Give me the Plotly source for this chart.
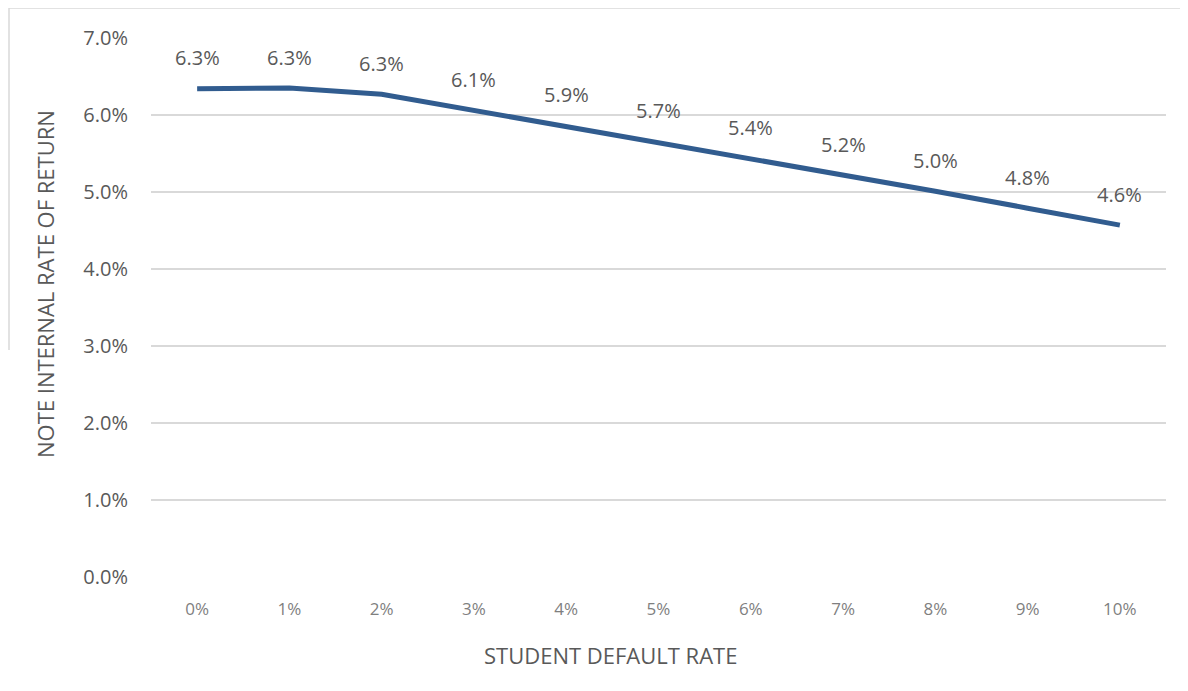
import plotly.graph_objects as go

categories = ["0%", "1%", "2%", "3%", "4%", "5%", "6%", "7%", "8%", "9%", "10%"]
irr_values = [6.34, 6.35, 6.27, 6.06, 5.86, 5.65, 5.44, 5.22, 5.01, 4.79, 4.57]
irr_labels = ["6.3%", "6.3%", "6.3%", "6.1%", "5.9%", "5.7%", "5.4%", "5.2%", "5.0%", "4.8%", "4.6%"]
y_ticks = [0, 1, 2, 3, 4, 5, 6, 7]
y_tick_labels = ["0.0%", "1.0%", "2.0%", "3.0%", "4.0%", "5.0%", "6.0%", "7.0%"]

W, H = 1188, 691
OFF = 8  # page body margin
ML, MT = 151 - OFF, 38 - OFF
MR = W - (1166 - OFF)
MB = H - (577 - OFF)
pw = W - ML - MR
ph = H - MT - MB


def px_x(px):
    return (px - OFF - ML) / pw


def px_y(py):
    return (H - MB - (py - OFF)) / ph


FONT = "Open Sans, Lato, sans-serif"
x_idx = list(range(len(categories)))

fig = go.Figure()
fig.add_trace(go.Scatter(
    x=x_idx, y=irr_values, mode="lines",
    line=dict(color="#315C8F", width=5),
    hoverinfo="skip", showlegend=False,
))

for xi, yv, lab in zip(x_idx, irr_values, irr_labels):
    fig.add_annotation(
        x=xi, y=yv, text=lab, showarrow=False,
        yshift=31, xanchor="center", yanchor="middle",
        font=dict(family=FONT, size=20, color="#595959"),
    )

# axis titles
fig.add_annotation(
    xref="paper", yref="paper", x=px_x(45), y=px_y(284),
    text="NOTE INTERNAL RATE OF RETURN", textangle=-90, showarrow=False,
    xanchor="center", yanchor="middle",
    font=dict(family=FONT, size=22, color="#595959"),
)
fig.add_annotation(
    xref="paper", yref="paper", x=px_x(610), y=px_y(655),
    text="STUDENT DEFAULT RATE", showarrow=False,
    xanchor="center", yanchor="middle",
    font=dict(family=FONT, size=22, color="#595959"),
)

# faint chart border (top and partial left) as in the reference
fig.add_shape(type="line", xref="paper", yref="paper",
              x0=px_x(9), x1=px_x(1188), y0=px_y(8), y1=px_y(8),
              line=dict(color="#D9D9D9", width=1.5))
fig.add_shape(type="line", xref="paper", yref="paper",
              x0=px_x(9), x1=px_x(9), y0=px_y(8), y1=px_y(350),
              line=dict(color="#D9D9D9", width=1.5))

fig.update_layout(
    width=W, height=H,
    margin=dict(l=ML, r=MR, t=MT, b=MB),
    paper_bgcolor="white", plot_bgcolor="white",
    font=dict(family=FONT, color="#595959"),
    xaxis=dict(
        tickmode="array", tickvals=x_idx, ticktext=categories,
        range=[-0.5, len(categories) - 0.5],
        showgrid=False, zeroline=False, showline=False, ticks="",
        tickfont=dict(size=17, color="#7F7F7F"),
        ticklabelstandoff=20,
    ),
    yaxis=dict(
        tickmode="array", tickvals=y_ticks, ticktext=y_tick_labels,
        range=[0, 7],
        showgrid=True, gridcolor="#D9D9D9", gridwidth=1.5,
        zeroline=False, showline=False, ticks="",
        tickfont=dict(size=20, color="#595959"),
        ticklabelstandoff=22,
    ),
)

fig.write_html("out.html")
